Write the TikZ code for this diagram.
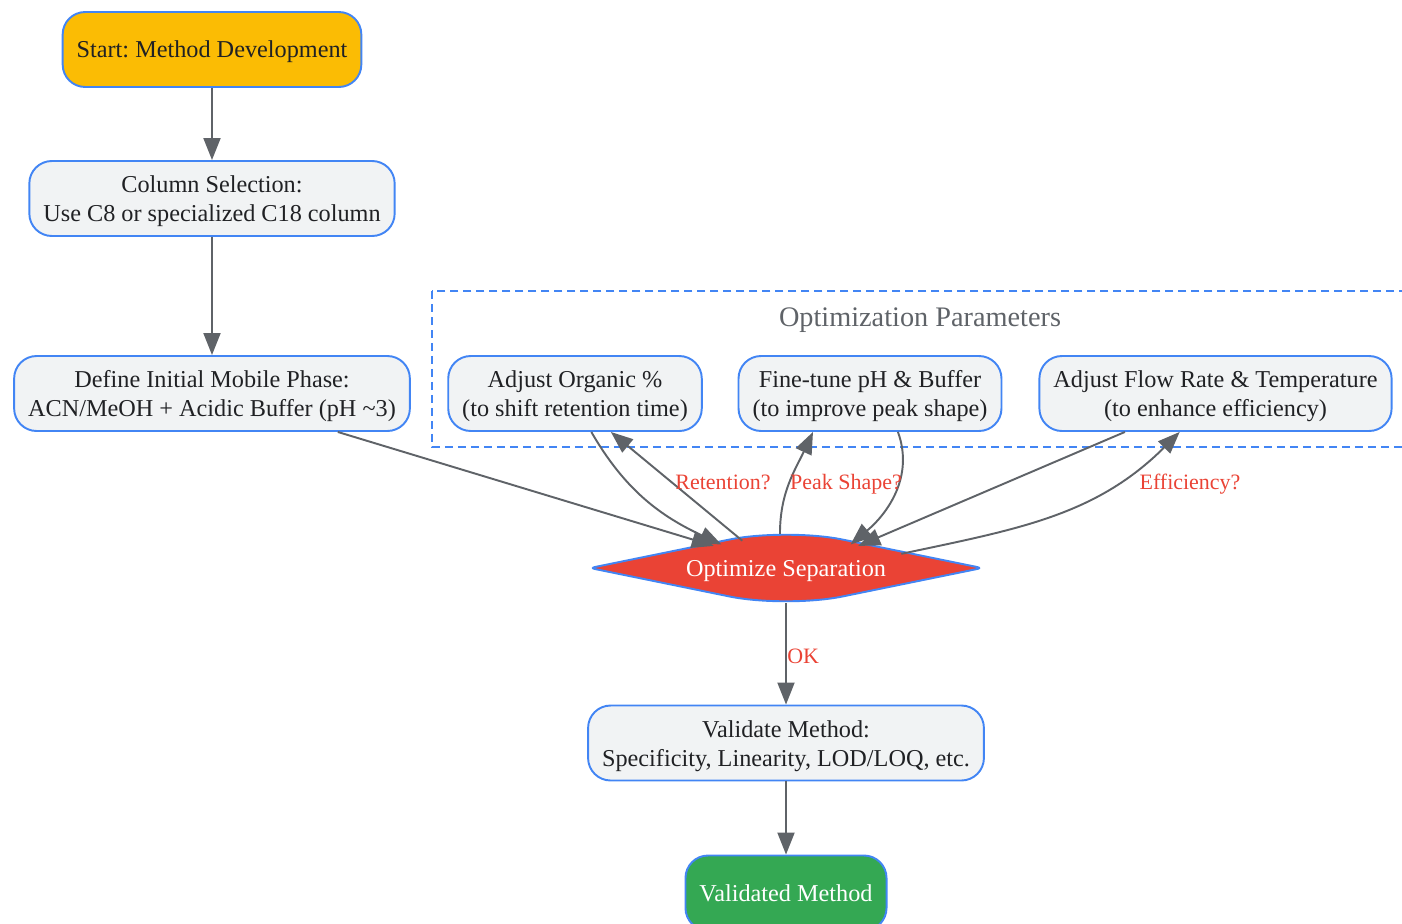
\documentclass[tikz,border=0pt]{standalone}
\usepackage{fontspec}
\setmainfont{Liberation Serif}
\usepackage{tikz}
\usetikzlibrary{calc,shapes.geometric,arrows.meta}
\frenchspacing
\definecolor{gblue}{HTML}{4285F4}
\definecolor{ggray}{HTML}{F1F3F4}
\definecolor{gamber}{HTML}{FBBC04}
\definecolor{gred}{HTML}{EA4335}
\definecolor{ggreen}{HTML}{34A853}
\definecolor{edgegray}{HTML}{5F6368}
\definecolor{ink}{HTML}{202124}
\tikzset{
	stepbox/.style={draw=gblue, line width=1.1pt, fill=ggray, rounded corners=0.45cm,
		minimum height=1.5cm, inner xsep=0.28cm, inner ysep=2pt, align=center, text=ink,
		font=\fontsize{13.8}{16.4}\selectfont, text height=13.8pt, text depth=4.2pt},
	twobox/.style={stepbox, text height=30.6pt},
	startbox/.style={stepbox, fill=gamber},
	endbox/.style={stepbox, fill=ggreen, text=white},
	arrowline/.style={draw=edgegray, line width=1.1pt, -{Triangle[length=0.44cm,width=0.34cm]}},
	edgelabel/.style={text=gred, font=\fontsize{12.5}{15}\selectfont, inner sep=0pt},
}

\begin{document}
\begin{tikzpicture}[x=0.02cm, y=-0.02cm]
	\useasboundingbox (0,0) rectangle (1402,923);
	\clip (0,0) rectangle (1402,923);
	
	%%%%%%%%%% grupo de parametros %%%%%%%%%%
	\draw[gblue, line width=1.1pt, dash pattern=on 0.16cm off 0.1cm] (432,291) rectangle (1420,447);
	\node[text=edgegray, font=\fontsize{16.1}{19}\selectfont] (optlabel) at (920,320) {Optimization Parameters};
	
	%%%%%%%%%% caixas %%%%%%%%%%
	\node[startbox] (start) at (212,49.5) {Start: Method Development};
	\node[twobox] (column) at (212,198.5) {Column Selection:\\Use C8 or specialized C18 column};
	\node[twobox] (mobile) at (212,393.5) {Define Initial Mobile Phase:\\ACN/MeOH + Acidic Buffer (pH \textasciitilde3)};
	\node[twobox] (organic) at (575,393.5) {Adjust Organic \%\\(to shift retention time)};
	\node[twobox] (finetune) at (870,393.5) {Fine-tune pH \& Buffer\\(to improve peak shape)};
	\node[twobox] (flowrate) at (1215.5,393.5) {Adjust Flow Rate \& Temperature\\(to enhance efficiency)};
	\node[twobox] (validate) at (786,743) {Validate Method:\\Specificity, Linearity, LOD/LOQ, etc.};
	\node[endbox] (validated) at (786,893) {Validated Method};
	
	%%%%%%%%%% losango %%%%%%%%%%
	\filldraw[fill=gred, draw=gblue, line width=1.1pt]
	(688,548) [rounded corners=1.15cm] -- (786,528) [rounded corners=0.1cm] -- (982,568)
	[rounded corners=1.15cm] -- (786,608) [rounded corners=0.1cm] -- (590,568) -- cycle;
	\node[shape=diamond, aspect=5.5, minimum width=7.68cm, minimum height=1.4cm, inner sep=0pt,
	text=white, font=\fontsize{13.8}{16.4}\selectfont, text height=13.8pt, text depth=4.2pt]
	(separate) at (786,568) {Optimize Separation};
	
	%%%%%%%%%% setas %%%%%%%%%%
	\draw[arrowline] (start) -- (column);
	\draw[arrowline] (column) -- (mobile);
	\draw[arrowline] (mobile.-17.4) -- (separate.163);
	\draw[arrowline] (separate.148) -- (organic.-47);
	\draw[arrowline] (organic.-67) to[out=-60, in=155] (separate.160);
	\draw[arrowline] (separate.100) to[out=90, in=-115] (finetune.-146);
	\draw[arrowline] (finetune.-54) to[out=-70, in=40] (separate.20);
	\draw[arrowline] (separate.7) to[out=12, in=-135] (flowrate.-133);
	\draw[arrowline] (flowrate.-157) -- (separate.17);
	\draw[arrowline] (separate) -- (validate);
	\draw[arrowline] (validate) -- (validated);
	
	%%%%%%%%%% rotulos %%%%%%%%%%
	\node[edgelabel] (lblret) at (723,482) {Retention?};
	\node[edgelabel] (lblpeak) at (846,484) {Peak Shape?};
	\node[edgelabel] (lbleff) at (1190,484) {Efficiency?};
	\node[edgelabel, anchor=west] (lblok) at (787,656) {OK};
\end{tikzpicture}
\end{document}
